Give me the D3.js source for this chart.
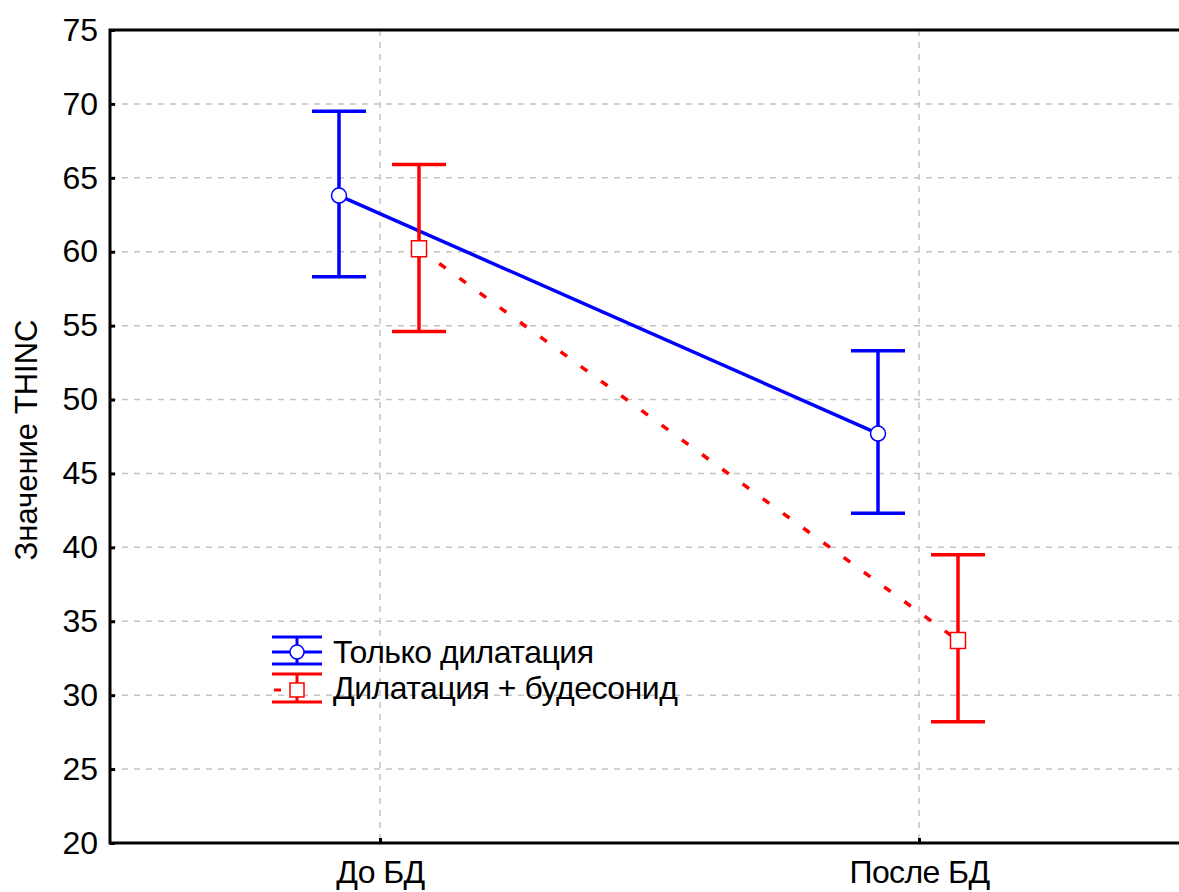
<!DOCTYPE html>
<html>
<head>
<meta charset="utf-8">
<script src="https://cdn.jsdelivr.net/npm/d3@7"></script>
<style>
  html, body { margin: 0; padding: 0; background: #fff; }
  svg { display: block; font-family: "Liberation Sans", Arial, sans-serif; }
</style>
</head>
<body>
<svg id="chart" width="1179" height="892"></svg>
<script>
// Categories and series
const categories = ["До БД", "После БД"];
const seriesNames = ["Только дилатация", "Дилатация + будесонид"];

// Means and confidence limits, "Только дилатация"
const meanOnly = [63.8, 47.7];
const lowOnly = [58.3, 42.3];
const highOnly = [69.5, 53.3];

// Means and confidence limits, "Дилатация + будесонид"
const meanBud = [60.2, 33.7];
const lowBud = [54.6, 28.2];
const highBud = [65.9, 39.5];

const yTicks = [20, 25, 30, 35, 40, 45, 50, 55, 60, 65, 70, 75];
const yTitle = "Значение THINC";

const svg = d3.select("#chart");
const plotLeft = 110, plotTop = 30, plotBottom = 843, plotRight = 1190;

const y = d3.scaleLinear().domain([20, 75]).range([plotBottom, plotTop]);
const x = d3.scalePoint().domain(categories).range([380, 919]);

const BLUE = "#0000ff", RED = "#ff0000";
const series = [
  { name: seriesNames[0], mean: meanOnly, low: lowOnly, high: highOnly, color: BLUE, offset: -41, dash: null, marker: "circle" },
  { name: seriesNames[1], mean: meanBud, low: lowBud, high: highBud, color: RED, offset: 39, dash: "8,17", marker: "square" }
];

// Grid
const grid = svg.append("g").attr("stroke", "#c4c4c4").attr("stroke-width", 1.5).attr("stroke-dasharray", "6,6");
grid.selectAll("line.h").data(yTicks.filter(t => t > 20 && t < 75)).join("line")
  .attr("class", "h")
  .attr("x1", plotLeft).attr("x2", plotRight).attr("y1", d => y(d)).attr("y2", d => y(d));
grid.selectAll("line.v").data(categories).join("line")
  .attr("class", "v")
  .attr("x1", d => x(d)).attr("x2", d => x(d)).attr("y1", plotTop).attr("y2", plotBottom);

// Frame
svg.append("rect").attr("x", plotLeft).attr("y", plotTop)
  .attr("width", plotRight - plotLeft).attr("height", plotBottom - plotTop)
  .attr("fill", "none").attr("stroke", "#000").attr("stroke-width", 3);

// Y axis
const yAxis = d3.axisLeft(y).tickValues(yTicks).tickSize(-5).tickPadding(12).tickFormat(d3.format("d"));
const gy = svg.append("g").attr("transform", `translate(${plotLeft},0)`).call(yAxis);
gy.select(".domain").remove();
gy.selectAll(".tick line").attr("stroke", "#000").attr("stroke-width", 3);
gy.selectAll(".tick text").attr("font-size", 32).attr("fill", "#000")
  .attr("font-family", "Liberation Sans, Arial, sans-serif");

// X axis
const xAxis = d3.axisBottom(x).tickSize(-5).tickPadding(17);
const gx = svg.append("g").attr("transform", `translate(0,${plotBottom})`).call(xAxis);
gx.select(".domain").remove();
gx.selectAll(".tick line").attr("stroke", "#000").attr("stroke-width", 3);
gx.selectAll(".tick text").attr("font-size", 32).attr("fill", "#000")
  .attr("font-family", "Liberation Sans, Arial, sans-serif").attr("letter-spacing", -0.6);

// Y title
svg.append("text")
  .attr("transform", `translate(37,440) rotate(-90)`)
  .attr("text-anchor", "middle").attr("font-size", 31).attr("fill", "#000")
  .text(yTitle);

// Connecting lines
const line = d3.line().x(d => d[0]).y(d => d[1]);
series.forEach(s => {
  const pts = categories.map((c, i) => [x(c) + s.offset, y(s.mean[i])]);
  svg.append("path").attr("d", line(pts)).attr("fill", "none")
    .attr("stroke", s.color).attr("stroke-width", 3.5)
    .attr("stroke-dasharray", s.dash);
});

// Error bars and markers
const capHalf = 27;
series.forEach(s => {
  const g = svg.append("g");
  categories.forEach((c, i) => {
    const cx = x(c) + s.offset;
    g.append("line").attr("x1", cx).attr("x2", cx).attr("y1", y(s.high[i])).attr("y2", y(s.low[i]))
      .attr("stroke", s.color).attr("stroke-width", 3.5);
    [s.high[i], s.low[i]].forEach(v => {
      g.append("line").attr("x1", cx - capHalf).attr("x2", cx + capHalf).attr("y1", y(v)).attr("y2", y(v))
        .attr("stroke", s.color).attr("stroke-width", 3.5);
    });
    if (s.marker === "circle") {
      g.append("circle").attr("cx", cx).attr("cy", y(s.mean[i])).attr("r", 7.5)
        .attr("fill", "#fff").attr("stroke", s.color).attr("stroke-width", 1.5);
    } else {
      g.append("rect").attr("x", cx - 7.5).attr("y", y(s.mean[i]) - 8).attr("width", 15).attr("height", 16)
        .attr("fill", "#fff").attr("stroke", s.color).attr("stroke-width", 1.5);
    }
  });
});

// Legend
const legend = svg.append("g");
const lx0 = 272, lx1 = 322, lcx = 297;
const rows = [
  { s: series[0], y0: 637, mid: 652, y1: 664, base: 663 },
  { s: series[1], y0: 674, mid: 690, y1: 702, base: 699 }
];
rows.forEach(r => {
  const s = r.s;
  legend.append("line").attr("x1", lx0).attr("x2", lx1).attr("y1", r.y0).attr("y2", r.y0).attr("stroke", s.color).attr("stroke-width", 3);
  legend.append("line").attr("x1", lx0).attr("x2", lx1).attr("y1", r.y1).attr("y2", r.y1).attr("stroke", s.color).attr("stroke-width", 3);
  legend.append("line").attr("x1", lcx).attr("x2", lcx).attr("y1", r.y0).attr("y2", r.y1).attr("stroke", s.color).attr("stroke-width", 3);
  if (s.marker === "circle") {
    legend.append("line").attr("x1", lx0).attr("x2", lx1).attr("y1", r.mid).attr("y2", r.mid).attr("stroke", s.color).attr("stroke-width", 3);
    legend.append("circle").attr("cx", lcx).attr("cy", r.mid).attr("r", 7)
      .attr("fill", "#fff").attr("stroke", s.color).attr("stroke-width", 1.5);
  } else {
    legend.append("line").attr("x1", lx0 + 2).attr("x2", lx0 + 9).attr("y1", r.mid).attr("y2", r.mid).attr("stroke", s.color).attr("stroke-width", 3);
    legend.append("rect").attr("x", lcx - 7).attr("y", r.mid - 7).attr("width", 14).attr("height", 14)
      .attr("fill", "#fff").attr("stroke", s.color).attr("stroke-width", 1.5);
  }
  legend.append("text").attr("x", 333).attr("y", r.base).attr("font-size", 32).attr("fill", "#000")
    .attr("letter-spacing", -0.5).text(s.name);
});
</script>
</body>
</html>
